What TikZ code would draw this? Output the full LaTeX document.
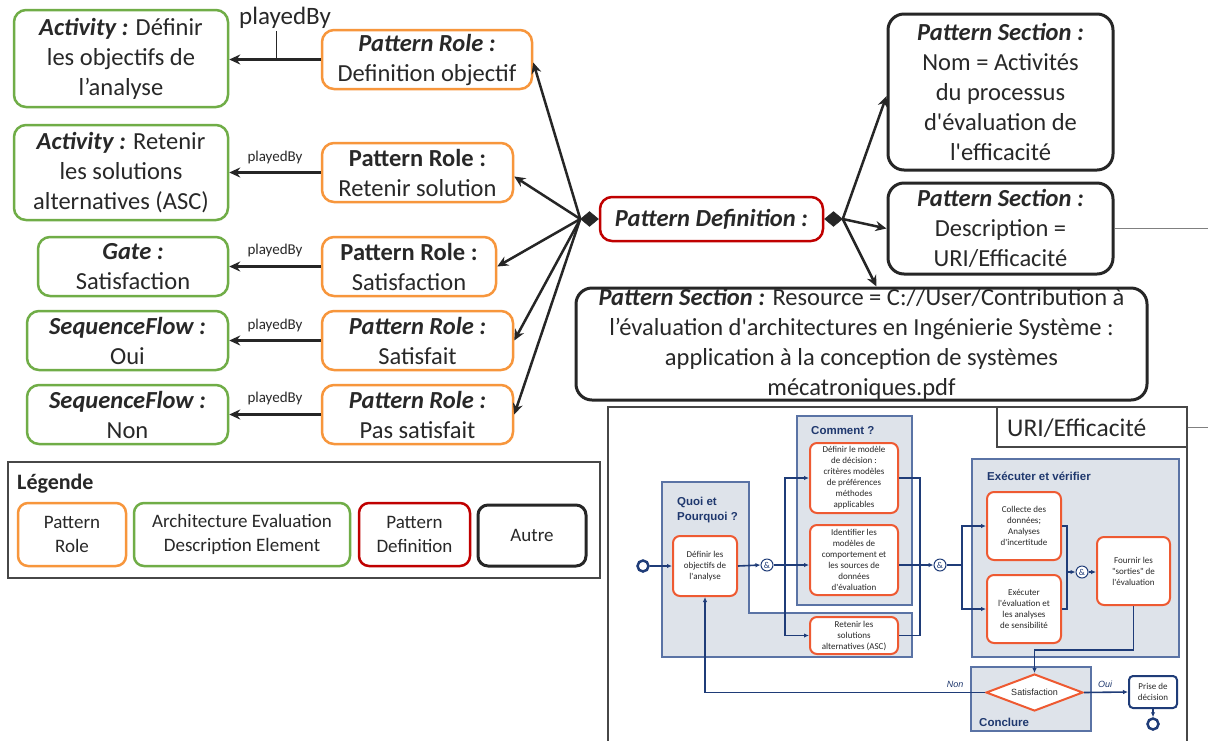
\documentclass[tikz,border=0pt]{standalone}
\usepackage{fontspec}
\setmainfont{Carlito}[Ligatures=TeXOff]
\newfontfamily\arialf{Liberation Sans}[Ligatures=TeXOff]
\usetikzlibrary{arrows.meta,shapes.geometric}
\definecolor{cor}{RGB}{247,150,60}
\definecolor{cgr}{RGB}{112,173,71}
\definecolor{crd}{RGB}{192,0,0}
\definecolor{cdk}{RGB}{38,38,38}
\definecolor{ctx}{RGB}{40,40,40}
\definecolor{lanefill}{RGB}{222,227,234}
\definecolor{laneline}{RGB}{90,115,165}
\definecolor{taskline}{RGB}{238,90,50}
\definecolor{navy}{RGB}{31,60,120}
\definecolor{navyt}{RGB}{31,56,110}
\newcommand{\bi}[1]{\textbf{\textit{#1}}}
\begin{document}
\begin{tikzpicture}[x=1pt,y=-1pt,
  sz/.style 2 args={minimum width=#1pt, minimum height=#2pt},
  box/.style={rounded corners=12pt, line width=2.5pt, fill=white, align=center, inner sep=0pt, text=ctx, font=\fontsize{24.5}{30}\selectfont},
  gbox/.style={box, draw=cgr},
  obox/.style={box, draw=cor},
  rbox/.style={box, draw=crd},
  kbox/.style={box, draw=cdk, line width=3pt, rounded corners=16pt},
  lbox/.style={rounded corners=10pt, line width=2.5pt, fill=white, align=center, inner sep=0pt, text=ctx, font=\fontsize{19}{24}\selectfont},
  conn/.style={draw=cdk, line width=2.5pt, -{Stealth[length=11pt,width=10pt]}},
  pby/.style={text=ctx, inner sep=0pt, font=\fontsize{15}{18}\selectfont},
  dia/.style={diamond, fill=cdk, draw=cdk, line width=0.5pt, minimum width=18pt, minimum height=15pt, inner sep=0pt},
  lane/.style={fill=lanefill, draw=laneline, line width=1.2pt},
  task/.style={draw=taskline, fill=white, line width=2pt, rounded corners=7pt, align=center, inner sep=0pt, text=ctx, font=\fontsize{9}{11}\selectfont},
  navyline/.style={draw=navy, line width=1.6pt},
  flow/.style={navyline, -{Latex[length=5pt,width=4.5pt]}},
  gate/.style={circle, draw=navy, fill=white, line width=1pt, minimum size=12pt, inner sep=0pt, font=\fontsize{9}{9}\selectfont, text=navy},
  evt/.style={circle, draw=navy, line width=2.5pt, minimum size=11pt, inner sep=0pt, fill=white},
  ltitle/.style={font=\arialf\bfseries\fontsize{11.5}{15}\selectfont, text=navyt, anchor=west, align=left, inner sep=0pt},
  flbl/.style={font=\arialf\itshape\fontsize{9}{11}\selectfont, text=navyt, inner sep=0pt}
]
\useasboundingbox (0,0) rectangle (1208,740);
\fill[white] (0,0) rectangle (1208,740);

% ---------- embedded process picture ----------
\draw[cdk!85, line width=1.3pt] (608,745) -- (608,407) -- (1187,407) -- (1187,745);
\node[draw=cdk!85, line width=1.3pt, fill=white, sz={190}{40}, inner sep=0pt] (uri) at (1092,427) {};
\node[anchor=west, inner sep=0pt, text=ctx, font=\fontsize{25.5}{30}\selectfont] (urit) at (1007,428) {URI/Efficacité};
\coordinate (urir) at (1208,427);
\draw[gray, line width=1pt] (uri.east) -- (urir);

\filldraw[lane] (662,482) -- (749,482) -- (749,613) -- (912,613) -- (912,657) -- (662,657) -- cycle;
\filldraw[lane] (797,416) rectangle (912,605);
\filldraw[lane] (972,459) rectangle (1179,657);
\filldraw[lane] (971,667) rectangle (1091,731);

\node[ltitle] (tcom) at (811,431) {Comment ?};
\node[ltitle] (tquoi) at (677,510) {Quoi et\\Pourquoi ?};
\node[ltitle] (texe) at (987,476) {Exécuter et vérifier};
\node[ltitle] (tcon) at (979,722) {Conclure};

\node[task, sz={64}{60}] (t1) at (705,566) {Définir les\\objectifs de\\l'analyse};
\node[task, sz={88}{70}] (t2) at (854,478) {Définir le modèle\\de décision :\\critères modèles\\de préférences\\méthodes\\applicables};
\node[task, sz={88}{70}] (t3) at (854,560) {Identifier les\\modèles de\\comportement et\\les sources de\\données\\d'évaluation};
\node[task, sz={88}{37}] (t4) at (854,635.5) {Retenir les\\solutions\\alternatives (ASC)};
\node[task, sz={74}{68}] (t5) at (1024,526) {Collecte des\\données;\\Analyses\\d'incertitude};
\node[task, sz={74}{68}] (t6) at (1024,609) {Exécuter\\l'évaluation et\\les analyses\\de sensibilité};
\node[task, sz={73}{68}] (t7) at (1133.5,571) {Fournir les\\"sorties" de\\l'évaluation};
\node[task, draw=navy, rounded corners=4pt, sz={48}{32}] (prise) at (1153,692) {Prise de\\décision};
\node[diamond, aspect=2.6, draw=taskline, fill=white, line width=2pt, sz={97}{37}, inner sep=0pt, text=ctx, font=\arialf\fontsize{9}{11}\selectfont] (dsat) at (1034.5,692.5) {Satisfaction};

\node[gate] (ga) at (767,565) {\&};
\node[gate] (gb) at (940,565) {\&};
\node[gate] (gc) at (1082,572) {\&};
\node[evt] (st) at (643,566) {};
\node[evt] (en) at (1153,724) {};

\coordinate (ja) at (785,565);
\coordinate (jb) at (920,565);
\coordinate (jc) at (962,565);
\coordinate (jd) at (1067,572);
\draw[flow] (st.east) -- (t1.west);
\draw[flow] (t1.east) -- (ga.west);
\draw[flow] (ga.east) -- (ga.east -| t3.west);
\draw[flow] (ja) |- (t2.west);
\draw[flow] (ja) |- (t4.west);
\draw[navyline] (t2.east) -| (jb);
\draw[navyline] (t4.east) -| (jb);
\draw[flow] (t3.east |- gb.west) -- (gb.west);
\draw[navyline] (gb.east) -- (jc);
\draw[flow] (jc) |- (t5.west);
\draw[flow] (jc) |- (t6.west);
\draw[navyline] (t5.east) -| (jd);
\draw[navyline] (t6.east) -| (jd);
\draw[flow] (jd) -- (gc.west);
\draw[flow] (gc.east) -- (gc.east -| t7.west);
\draw[flow] (t7.south) -- ++(0,44) -| (dsat.north);
\draw[flow] (dsat.east) -- (prise.west);
\draw[flow] (dsat.west) -| (t1.south);
\draw[flow] (prise.south) -- (en.north);
\node[flbl] (lnon) at (955,684) {Non};
\node[flbl] (loui) at (1105,684) {Oui};

% ---------- legend ----------
\draw[cdk!85, line width=1.5pt, fill=white] (8,462) rectangle (600,578);
\node[anchor=west, inner sep=0pt, text=ctx, font=\bfseries\fontsize{22}{26}\selectfont] (leg) at (17,484) {Légende};
\node[lbox, draw=cor, sz={108}{63}] (lo) at (72,534.5) {Pattern\\Role};
\node[lbox, draw=cgr, sz={216}{63}] (lg) at (242,534.5) {Architecture Evaluation\\Description Element};
\node[lbox, draw=crd, sz={111}{63}] (lr) at (414.5,534.5) {Pattern\\Definition};
\node[lbox, draw=cdk, line width=3pt, sz={108}{61}] (lk) at (532,535.5) {Autre};

% ---------- main nodes ----------
\node[gbox, sz={214}{97}] (g1) at (121,58.5) {\bi{Activity :} Définir\\les objectifs de\\l’analyse};
\node[gbox, sz={214}{95}] (g2) at (121,172.5) {\bi{Activity :} Retenir\\les solutions\\alternatives (ASC)};
\node[gbox, sz={190}{59}] (g3) at (133,266.5) {\bi{Gate :}\\Satisfaction};
\node[gbox, sz={201}{59}] (g4) at (127.5,340.5) {\bi{SequenceFlow :}\\Oui};
\node[gbox, sz={201}{59}] (g5) at (127.5,414.5) {\bi{SequenceFlow :}\\Non};

\node[obox, sz={210}{59}] (o1) at (427,59.5) {\bi{Pattern Role :}\\Definition objectif};
\node[obox, sz={191}{59}] (o2) at (417.5,172.5) {\textbf{Pattern Role :}\\Retenir solution};
\node[obox, sz={174}{59}] (o3) at (409,266.5) {\textbf{Pattern Role :}\\Satisfaction};
\node[obox, sz={191}{59}] (o4) at (417.5,340.5) {\bi{Pattern Role :}\\Satisfait};
\node[obox, sz={191}{59}] (o5) at (417.5,414.5) {\bi{Pattern Role :}\\Pas satisfait};

\node[rbox, sz={223}{44}] (pd) at (711.5,219) {\bi{Pattern Definition :}};
\node[dia, anchor=east] (dl) at (pd.west) {};
\node[dia, anchor=west] (dr) at (pd.east) {};

\node[kbox, sz={225}{156}] (s1) at (1000.5,92) {\bi{Pattern Section :}\\Nom = Activités\\du processus\\d'évaluation de\\l'efficacité};
\node[kbox, sz={225}{91}] (s2) at (1000.5,228.5) {\bi{Pattern Section :}\\Description =\\URI/Efficacité};
\node[kbox, sz={571}{112}] (s3) at (861.5,344) {\bi{Pattern Section :} Resource = C://User/Contribution à\\l’évaluation d'architectures en Ingénierie Système :\\application à la conception de systèmes\\mécatroniques.pdf};
\coordinate (s2r) at (1208,228.5);
\draw[gray, line width=1pt] (s2.east) -- (s2r);

% ---------- connectors ----------
\draw[conn] (o1.west) -- (o1.west -| g1.east);
\draw[conn] (o2.west) -- (o2.west -| g2.east);
\draw[conn] (o3.west) -- (o3.west -| g3.east);
\draw[conn] (o4.west) -- (o4.west -| g4.east);
\draw[conn] (o5.west) -- (o5.west -| g5.east);
\node[pby, font=\fontsize{25}{30}\selectfont] (pb1) at (285,18) {playedBy};
\coordinate (pbc) at (276,31);
\draw[cdk, line width=0.8pt] (pbc) -- (pbc |- o1.west);
\node[pby] (pb2) at (275,157) {playedBy};
\node[pby] (pb3) at (275,250) {playedBy};
\node[pby] (pb4) at (275,325) {playedBy};
\node[pby] (pb5) at (275,398) {playedBy};

\draw[conn] (dl.west) -- ([yshift=-3pt]o1.east);
\draw[conn] (dl.west) -- ([yshift=-4pt]o2.east);
\draw[conn] (dl.west) -- (o3.east);
\draw[conn] (dl.west) -- (o4.east);
\draw[conn] (dl.west) -- (o5.east);
\draw[conn] (dr.east) -- ([yshift=-4pt]s1.west);
\draw[conn] (dr.east) -- (s2.west);
\draw[conn] (dr.east) -- ([xshift=15pt]s3.north);
\end{tikzpicture}
\end{document}
